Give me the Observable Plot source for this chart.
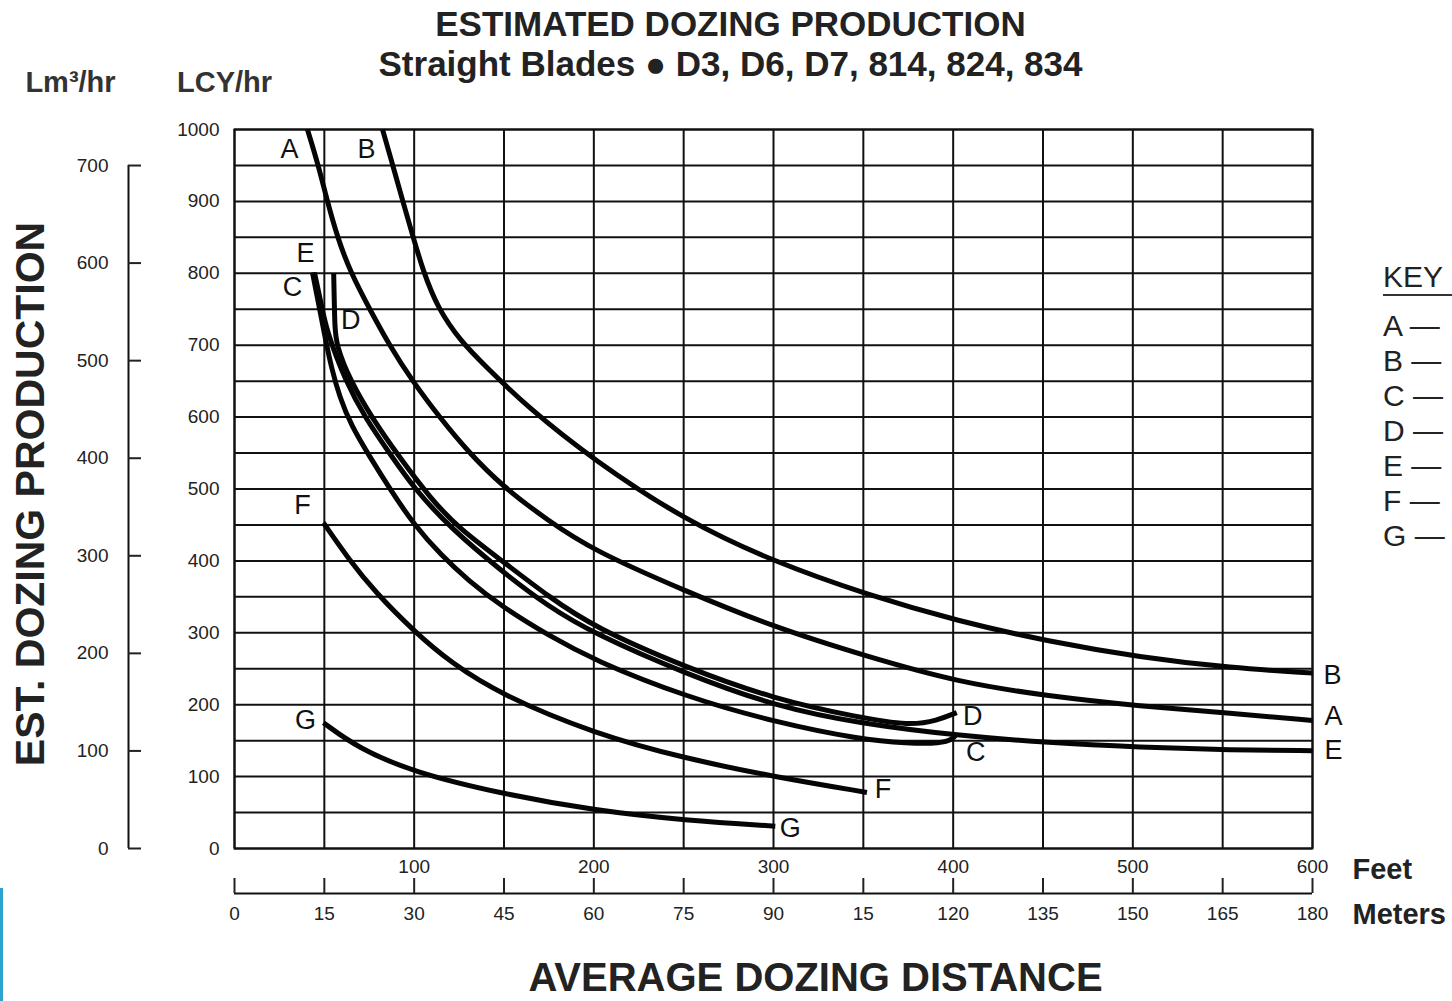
<!DOCTYPE html>
<html>
<head>
<meta charset="utf-8">
<script src="https://cdn.jsdelivr.net/npm/d3@7"></script>
<script src="https://cdn.jsdelivr.net/npm/@observablehq/plot@0.6"></script>
<style>
  html, body { margin: 0; padding: 0; background: #fff; }
  #wrap { position: relative; width: 1452px; height: 1001px; overflow: hidden;
          font-family: "Liberation Sans", Arial, Helvetica, sans-serif; background: #fff; }
  #wrap svg { position: absolute; left: 0; top: 0; }
  #key { position: absolute; left: 1383px; top: 259px; color: #222; font-size: 30px; white-space: nowrap; }
  #key .kh { height: 35px; line-height: 35px; width: 90px; border-bottom: 2px solid #333; }
  #key .entries { margin-top: 12px; }
  #key .entry { height: 35px; line-height: 35px; }
  #edge { position: absolute; left: 0; top: 888px; width: 3px; height: 113px; background: #2aa3cf; }
</style>
</head>
<body>
<div id="wrap"><div id="edge"></div></div>
<script>
// ---------- data ----------
const curveNames = ["A", "B", "C", "D", "E", "F", "G"];

// [average dozing distance (feet), production (LCY/hr)]
const seriesA = [[40.6,1000],[46.7,950],[51.8,899],[57.3,850],[64.6,801],[75.7,748],[86,701],[99,650],[115,597],[130,552],[149,504],[174,457],[200,414],[251,358],[300,308],[352,267],[403,231],[453,212],[504,198],[555,188],[600,178]];
const seriesB = [[82.4,1000],[88,951],[93.5,902],[99,854],[105,803],[113,752],[126,705],[140,670],[163,614],[200,540],[251,456],[300,399],[352,353],[403,316],[453,288],[504,266],[555,251],[600,244]];
const seriesC = [[43.4,801],[47,755],[50.5,710],[54,668],[58.5,628],[65,588],[75,546],[87,498],[100,450],[115,408],[130,373],[149,336],[175,296],[200,262],[251,211],[302,175],[348,152],[375,146],[393,146],[400,152],[402,160]];
const seriesD = [[55.2,800],[55.5,765],[55.8,730],[56.5,700],[64.6,650],[76.8,598],[90.7,548],[109,487],[125,445],[149,400],[175,350],[200,308],[251,252],[300,208],[348,182],[376,171],[391,178],[402,189]];
const seriesE = [[44.5,801],[47.9,762],[51.2,720],[61.8,650],[72.9,598],[86.8,548],[99.6,502],[120,446],[149,385],[175,336],[200,299],[251,243],[302,197],[348,174],[403,157],[453,147],[504,141],[555,137],[600,136]];
const seriesF = [[49.5,453],[63.4,403],[78.5,356],[99.6,303],[120,259],[149,213],[200,160],[251,125],[302,99],[352,78]];
const seriesG = [[49.5,175],[68.5,140],[99.6,106],[149,76],[200,53],[251,39],[301,31]];
const seriesList = [seriesA, seriesB, seriesC, seriesD, seriesE, seriesF, seriesG];

// axes / ticks
const lcyTicks = [0, 100, 200, 300, 400, 500, 600, 700, 800, 900, 1000];
const lcyGrid = [0, 50, 100, 150, 200, 250, 300, 350, 400, 450, 500, 550, 600, 650, 700, 750, 800, 850, 900, 950, 1000];
const feetGrid = [0, 50, 100, 150, 200, 250, 300, 350, 400, 450, 500, 550, 600];
const feetLabels = [100, 200, 300, 400, 500, 600];
const meterLabels = ["0", "15", "30", "45", "60", "75", "90", "15", "120", "135", "150", "165", "180"];
const lm3Ticks = [0, 100, 200, 300, 400, 500, 600, 700];
const lm3PerLcyAsDrawn = 1.357;   // LCY per Lm³ on the printed secondary scale

const titleText = "ESTIMATED DOZING PRODUCTION";
const subtitleText = "Straight Blades \u25CF D3, D6, D7, 814, 824, 834";

// ---------- derived tables ----------
const table = curveNames.flatMap((name, i) => seriesList[i].map(([ft, lcy]) => ({name, ft, lcy})));
const meterLabelByFeet = new Map(feetGrid.map((f, i) => [f, meterLabels[i]]));

// label placement (style)
const startOffsets = {A:[-18,20], B:[-16,20], C:[-20,15], D:[17,47], E:[-9,-19], F:[-21,-17], G:[-18,-2]};
const endOffsets   = {A:[21,-4], B:[20,2], C:[19,19], D:[16,4], E:[21,0], F:[16,-3], G:[15,2]};

const ink = "#111";
const labelMarks = curveNames.flatMap((name, i) => {
  const s = seriesList[i];
  const first = s[0], last = s[s.length - 1];
  return [
    Plot.text([first], {x: d => d[0], y: d => d[1], text: () => name, dx: startOffsets[name][0], dy: startOffsets[name][1],
      fontSize: 27, fill: ink, textAnchor: "middle", lineAnchor: "middle"}),
    Plot.text([last], {x: d => d[0], y: d => d[1], text: () => name, dx: endOffsets[name][0], dy: endOffsets[name][1],
      fontSize: 27, fill: ink, textAnchor: "middle", lineAnchor: "middle"})
  ];
});

const chart = Plot.plot({
  width: 1452,
  height: 1001,
  marginLeft: 234,
  marginRight: 140,
  marginTop: 129,
  marginBottom: 153,
  x: {domain: [0, 600]},
  y: {domain: [0, 1000]},
  style: {fontFamily: "'Liberation Sans', Arial, Helvetica, sans-serif", fontSize: "19px", color: "#222", background: "transparent", overflow: "visible"},
  marks: [
    Plot.ruleX(feetGrid, {stroke: ink, strokeWidth: 2}),
    Plot.ruleY(lcyGrid, {stroke: ink, strokeWidth: 2}),
    Plot.frame({stroke: ink, strokeWidth: 2}),
    Plot.line(table, {x: "ft", y: "lcy", z: "name", stroke: "#050505", strokeWidth: 5, curve: "basis", strokeLinecap: "butt"}),
    ...labelMarks,
    // LCY axis
    Plot.axisY(lcyTicks, {anchor: "left", tickSize: 0, tickPadding: 15, fontSize: 19, label: null, tickFormat: d => String(d)}),
    // Lm³ axis
    Plot.ruleX([0], {y1: 0, y2: lm3Ticks[lm3Ticks.length - 1] * lm3PerLcyAsDrawn, dx: -106, stroke: ink, strokeWidth: 2}),
    Plot.axisY(lm3Ticks.map(v => v * lm3PerLcyAsDrawn), {anchor: "left", dx: -93, tickSize: 13, tickPadding: 20, strokeWidth: 2,
      tickFormat: d => String(Math.round(d / lm3PerLcyAsDrawn)), fontSize: 19, label: null}),
    // Feet labels
    Plot.axisX(feetLabels, {anchor: "bottom", tickSize: 0, tickPadding: 11, fontSize: 19, label: null, tickFormat: d => String(d)}),
    // Meters axis
    Plot.ruleY([0], {dy: 45, stroke: ink, strokeWidth: 2}),
    Plot.axisX(feetGrid, {anchor: "bottom", dy: 30, tickSize: 15, tickPadding: 13, strokeWidth: 2,
      tickFormat: d => meterLabelByFeet.get(d), fontSize: 19, label: null}),
    // texts
    Plot.text(["Feet"], {frameAnchor: "bottom-right", text: d => d, dx: 40, dy: 21, textAnchor: "start", lineAnchor: "middle", fontSize: 29, fontWeight: "bold", fill: "#222"}),
    Plot.text(["Meters"], {frameAnchor: "bottom-right", text: d => d, dx: 40, dy: 66, textAnchor: "start", lineAnchor: "middle", fontSize: 29, fontWeight: "bold", fill: "#222"}),
    Plot.text([titleText], {frameAnchor: "top", text: d => d, dx: -43, dy: -105, textAnchor: "middle", lineAnchor: "middle", fontSize: 35, fontWeight: "bold", fill: "#222"}),
    Plot.text([subtitleText], {frameAnchor: "top", text: d => d, dx: -43, dy: -65, textAnchor: "middle", lineAnchor: "middle", fontSize: 35, fontWeight: "bold", fill: "#222"}),
    Plot.text(["Lm\u00B3/hr"], {frameAnchor: "top-left", text: d => d, dx: -164, dy: -47, textAnchor: "middle", lineAnchor: "middle", fontSize: 29, fontWeight: "bold", fill: "#333"}),
    Plot.text(["LCY/hr"], {frameAnchor: "top-left", text: d => d, dx: -10, dy: -47, textAnchor: "middle", lineAnchor: "middle", fontSize: 29, fontWeight: "bold", fill: "#333"}),
    Plot.text(["EST. DOZING PRODUCTION"], {frameAnchor: "left", text: d => d, dx: -204, dy: 5, rotate: -90, textAnchor: "middle", lineAnchor: "middle", fontSize: 41, fontWeight: "bold", fill: "#222"}),
    Plot.text(["AVERAGE DOZING DISTANCE"], {frameAnchor: "bottom", text: d => d, dx: 42, dy: 130, textAnchor: "middle", lineAnchor: "middle", fontSize: 40, fontWeight: "bold", fill: "#222"})
  ]
});

const wrap = document.getElementById("wrap");
wrap.appendChild(chart);

// Key (clipped at the right edge, as in the reference)
const key = document.createElement("div");
key.id = "key";
const kh = document.createElement("div");
kh.className = "kh";
kh.textContent = "KEY";
key.appendChild(kh);
const entries = document.createElement("div");
entries.className = "entries";
for (const name of curveNames) {
  const e = document.createElement("div");
  e.className = "entry";
  e.textContent = name + " \u2014";
  entries.appendChild(e);
}
key.appendChild(entries);
wrap.appendChild(key);
</script>
</body>
</html>
